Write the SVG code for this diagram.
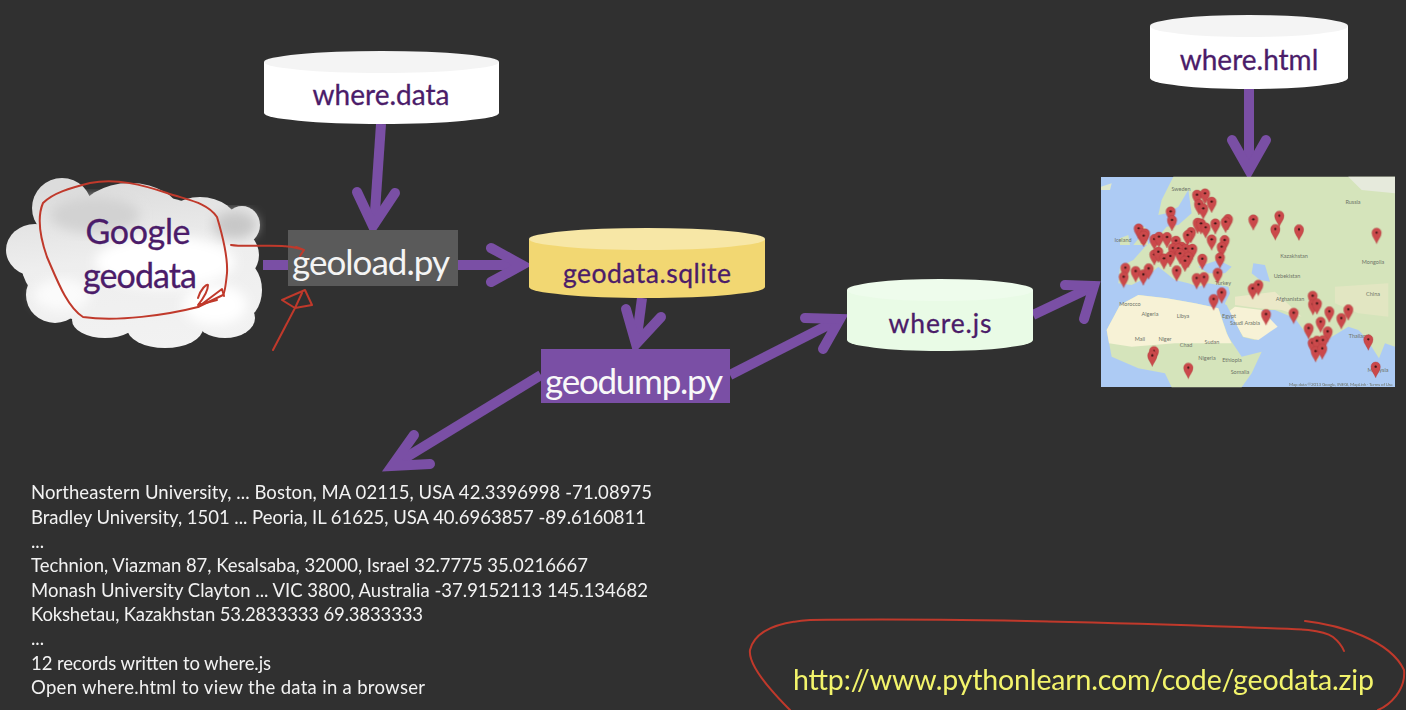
<svg xmlns="http://www.w3.org/2000/svg" xmlns:xlink="http://www.w3.org/1999/xlink" width="1406" height="710" viewBox="0 0 1406 710">
<style>
text{font-family:Lato,"Open Sans","Liberation Sans",sans-serif}
.lbl{font-size:28px;fill:#4b1c69;text-anchor:middle;stroke:#4b1c69;stroke-width:.3px}
.out{font-size:18.5px;fill:#f2f2f2}
.arr{fill:none;stroke:#7a4fa5;stroke-width:10;stroke-linecap:butt;stroke-linejoin:miter}
.hd{fill:none;stroke:#7a4fa5;stroke-width:10;stroke-linecap:round;stroke-linejoin:miter}
.red{fill:none;stroke:#c0392b;stroke-width:2;stroke-linecap:round;stroke-linejoin:round}
.m{font-size:5.500px;fill:#6f7468;text-anchor:middle}
</style>
<defs>
<linearGradient id="cl" gradientUnits="userSpaceOnUse" x1="130" y1="180" x2="150" y2="350"><stop offset="0" stop-color="#dcdcdc"/><stop offset=".45" stop-color="#eeeeee"/><stop offset="1" stop-color="#f2f2f2"/></linearGradient>
<filter id="soft" x="-5%" y="-5%" width="110%" height="110%"><feGaussianBlur stdDeviation=".9"/></filter>
<filter id="soft2" x="-20%" y="-20%" width="140%" height="140%"><feGaussianBlur stdDeviation="6"/></filter>
<g id="pin"><path d="M0,33C-3,22-14,14-14,0A14,14 0 1 1 14,0C14,14 3,22 0,33Z" fill="#cb4a4c" stroke="#a83638" stroke-width="1"/><circle r="3.500" fill="#3a1414"/></g>
</defs>
<rect id="background" width="1406" height="710" fill="#303030"/>

<g id="connectors">
<path class="arr" d="M381,124L374,226"/><path class="hd" d="M357,192L373,226L395,193"/>
<path class="arr" d="M263,265H290"/>
<path class="arr" d="M458,265H522"/><path class="hd" d="M491,248L522,265L491,282"/>
<path class="arr" d="M642,298L636,344"/><path class="hd" d="M626,309L636,344L661,317"/>
<path class="arr" d="M541,375L392,466"/><path class="hd" d="M414,435L392,466L430,464"/>
<path class="arr" d="M730,375L840,319"/><path class="hd" d="M805,318L840,319L823,349"/>
<path class="arr" d="M1033,315L1094,286"/><path class="hd" d="M1065,285L1094,286L1084,319"/>
<path class="arr" d="M1249,89V170"/><path class="hd" d="M1232,140L1249,170L1266,140"/>
</g>

<g id="where-data">
<path d="M264,62V113A117.500,11 0 0 0 499,113V62Z" fill="#fff"/>
<ellipse cx="381.500" cy="62" rx="117.500" ry="11" fill="#f4f4f4"/>
<text class="lbl" x="381" y="105">where.data</text>
</g>
<g id="where-html">
<path d="M1150,26V78A99,11 0 0 0 1348,78V26Z" fill="#fff"/>
<ellipse cx="1249" cy="26" rx="99" ry="11" fill="#f4f4f4"/>
<text class="lbl" x="1249" y="70">where.html</text>
</g>
<g id="geodata-sqlite">
<path d="M529,239V287A118,11 0 0 0 765,287V239Z" fill="#f2d772"/>
<ellipse cx="647" cy="239" rx="118" ry="11" fill="#f7e7a6"/>
<text class="lbl" x="647" y="283" style="font-size:26.500px" textLength="168">geodata.sqlite</text>
</g>
<g id="where-js">
<path d="M847,290V340A93,11 0 0 0 1033,340V290Z" fill="#e9fbe6"/>
<ellipse cx="940" cy="290" rx="93" ry="11" fill="#eefcec"/>
<text class="lbl" x="940" y="333" style="font-size:26.500px" textLength="103">where.js</text>
</g>

<g id="google-geodata">
<g fill="url(#cl)">
<ellipse cx="62" cy="208" rx="30" ry="30"/><ellipse cx="130" cy="215" rx="50" ry="32"/><ellipse cx="200" cy="225" rx="38" ry="28"/><ellipse cx="242" cy="225" rx="18" ry="19"/>
<ellipse cx="35" cy="250" rx="29" ry="26"/><ellipse cx="55" cy="295" rx="29" ry="28"/><ellipse cx="105" cy="320" rx="33" ry="18"/><ellipse cx="165" cy="328" rx="38" ry="20"/><ellipse cx="225" cy="318" rx="30" ry="20"/><ellipse cx="240" cy="290" rx="22" ry="30"/><ellipse cx="235" cy="255" rx="24" ry="25"/>
<ellipse cx="133" cy="262" rx="112" ry="68"/>
</g>
<ellipse cx="165" cy="262" rx="70" ry="26" fill="#fff" filter="url(#soft2)"/>
<ellipse cx="215" cy="305" rx="32" ry="20" fill="#fff" filter="url(#soft2)"/>
<ellipse cx="62" cy="295" rx="28" ry="16" fill="#fbfbfb" filter="url(#soft2)"/>
<ellipse cx="95" cy="215" rx="45" ry="18" fill="#d2d2d2" filter="url(#soft2)"/>
<ellipse cx="235" cy="225" rx="22" ry="14" fill="#c8c8c8" filter="url(#soft2)"/>
<text class="lbl" x="138" y="244" style="font-size:34px" textLength="105">Google</text>
<text class="lbl" x="140" y="288" style="font-size:34px" textLength="114">geodata</text>
</g>

<g id="geoload-py">
<rect x="288" y="230" width="170" height="56" fill="#5a5a5a"/>
<text x="371" y="275" font-size="35" fill="#f4f4f4" text-anchor="middle" textLength="158">geoload.py</text>
</g>
<g id="geodump-py">
<rect x="541" y="349" width="189" height="54" fill="#7a4fa5"/>
<text x="634" y="394" font-size="35" fill="#f8f8f8" text-anchor="middle" textLength="178">geodump.py</text>
</g>

<g id="map">
<rect x="1101" y="177" width="294" height="210" fill="#adcbf4"/>
<g transform="translate(1095 170) scale(.3333)" filter="url(#soft)">
<path d="M235,20H900V530L870,520L852,565L830,530L800,490L790,480L760,470L695,510L665,575L640,500L600,445L540,420L490,420L510,440L545,470L480,510L440,500L395,420L390,400L405,370L400,350L340,340L310,350L280,340L240,330L190,290L150,325L110,345L70,340L75,290L115,270L150,230L190,200L215,170L250,165L290,130L280,60L250,110L215,130L190,135L200,90Z" fill="#d5e4bb"/>
<path d="M440,20H760L800,60L900,70V20Z" fill="#e6eadc"/>
<path d="M120,175L150,170L160,225L115,225L135,200Z" fill="#d5e4bb"/>
<path d="M75,205L100,195L105,225L75,225Z" fill="#d5e4bb"/>
<path d="M18,50L50,40L45,60L18,60Z" fill="#dfe8cc"/>
<path d="M310,290L370,270L410,290L390,310L340,310Z" fill="#adcbf4"/>
<path d="M475,280L510,285L525,335L495,330L470,310Z" fill="#adcbf4"/>
<path d="M75,405L130,375L215,385L300,400L370,415L400,500L440,560L500,545L470,610L440,652H230L210,610L130,595L50,560L35,480Z" fill="#d5e4bb"/>
<path d="M75,405L130,375L215,385L300,400L370,415L395,490L410,520H240L110,530L42,520L35,480Z" fill="#f7f2d6"/>
<path d="M400,425L445,500L490,510L548,470L500,420L420,410Z" fill="#f7f2d6"/>
<path d="M380,400L430,500L445,505L395,405Z" fill="#adcbf4"/>
<path d="M420,380L540,365L620,440L560,420L490,415L420,405Z" fill="#ebe8c8"/>
<path d="M720,350L880,340V440L790,430L720,400Z" fill="#e2e6c2"/>
</g>
<g>
<text class="m" x="1181" y="191">Sweden</text>
<text class="m" x="1353" y="204">Russia</text>
<text class="m" x="1123" y="242">Iceland</text>
<text class="m" x="1294" y="258">Kazakhstan</text>
<text class="m" x="1373" y="264">Mongolia</text>
<text class="m" x="1287" y="278">Uzbekistan</text>
<text class="m" x="1223" y="285">Turkey</text>
<text class="m" x="1373" y="296">China</text>
<text class="m" x="1229" y="318">Egypt</text>
<text class="m" x="1183" y="318">Libya</text>
<text class="m" x="1150" y="316">Algeria</text>
<text class="m" x="1290" y="301">Afghanistan</text>
<text class="m" x="1130" y="306">Morocco</text>
<text class="m" x="1245" y="325">Saudi Arabia</text>
<text class="m" x="1140" y="341">Mali</text>
<text class="m" x="1165" y="341">Niger</text>
<text class="m" x="1212" y="344">Sudan</text>
<text class="m" x="1186" y="347">Chad</text>
<text class="m" x="1232" y="362">Ethiopia</text>
<text class="m" x="1207" y="360">Nigeria</text>
<text class="m" x="1240" y="374">Somalia</text>
<text class="m" x="1359" y="338">Thailand</text>
<text class="m" x="1378" y="372">Malaysia</text>
</g>
<g transform="translate(1095 170) scale(.3333)" filter="url(#soft)">
<use xlink:href="#pin" x="306" y="74"/><use xlink:href="#pin" x="330" y="70"/><use xlink:href="#pin" x="312" y="102"/><use xlink:href="#pin" x="350" y="95"/><use xlink:href="#pin" x="325" y="115"/><use xlink:href="#pin" x="227" y="124"/><use xlink:href="#pin" x="231" y="150"/><use xlink:href="#pin" x="399" y="147"/><use xlink:href="#pin" x="392" y="155"/><use xlink:href="#pin" x="361" y="160"/><use xlink:href="#pin" x="308" y="158"/><use xlink:href="#pin" x="318" y="160"/><use xlink:href="#pin" x="332" y="172"/><use xlink:href="#pin" x="475" y="148"/><use xlink:href="#pin" x="553" y="137"/><use xlink:href="#pin" x="541" y="177"/><use xlink:href="#pin" x="612" y="178"/><use xlink:href="#pin" x="845" y="188"/><use xlink:href="#pin" x="131" y="175"/><use xlink:href="#pin" x="140" y="190"/><use xlink:href="#pin" x="150" y="190"/><use xlink:href="#pin" x="146" y="197"/><use xlink:href="#pin" x="178" y="207"/><use xlink:href="#pin" x="192" y="200"/><use xlink:href="#pin" x="216" y="201"/><use xlink:href="#pin" x="288" y="186"/><use xlink:href="#pin" x="278" y="195"/><use xlink:href="#pin" x="243" y="212"/><use xlink:href="#pin" x="350" y="208"/><use xlink:href="#pin" x="389" y="210"/><use xlink:href="#pin" x="380" y="230"/><use xlink:href="#pin" x="234" y="234"/><use xlink:href="#pin" x="260" y="230"/><use xlink:href="#pin" x="272" y="236"/><use xlink:href="#pin" x="292" y="236"/><use xlink:href="#pin" x="250" y="235"/><use xlink:href="#pin" x="178" y="253"/><use xlink:href="#pin" x="190" y="245"/><use xlink:href="#pin" x="207" y="265"/><use xlink:href="#pin" x="226" y="258"/><use xlink:href="#pin" x="255" y="250"/><use xlink:href="#pin" x="280" y="260"/><use xlink:href="#pin" x="270" y="272"/><use xlink:href="#pin" x="322" y="266"/><use xlink:href="#pin" x="375" y="262"/><use xlink:href="#pin" x="91" y="293"/><use xlink:href="#pin" x="122" y="303"/><use xlink:href="#pin" x="145" y="313"/><use xlink:href="#pin" x="161" y="295"/><use xlink:href="#pin" x="86" y="320"/><use xlink:href="#pin" x="245" y="301"/><use xlink:href="#pin" x="305" y="324"/><use xlink:href="#pin" x="327" y="321"/><use xlink:href="#pin" x="368" y="308"/><use xlink:href="#pin" x="380" y="367"/><use xlink:href="#pin" x="356" y="387"/><use xlink:href="#pin" x="473" y="355"/><use xlink:href="#pin" x="490" y="344"/><use xlink:href="#pin" x="513" y="432"/><use xlink:href="#pin" x="596" y="428"/><use xlink:href="#pin" x="653" y="377"/><use xlink:href="#pin" x="654" y="402"/><use xlink:href="#pin" x="666" y="400"/><use xlink:href="#pin" x="703" y="424"/><use xlink:href="#pin" x="760" y="418"/><use xlink:href="#pin" x="739" y="444"/><use xlink:href="#pin" x="677" y="455"/><use xlink:href="#pin" x="641" y="474"/><use xlink:href="#pin" x="698" y="484"/><use xlink:href="#pin" x="653" y="518"/><use xlink:href="#pin" x="666" y="512"/><use xlink:href="#pin" x="684" y="510"/><use xlink:href="#pin" x="662" y="543"/><use xlink:href="#pin" x="682" y="535"/><use xlink:href="#pin" x="820" y="508"/><use xlink:href="#pin" x="842" y="590"/><use xlink:href="#pin" x="177" y="543"/><use xlink:href="#pin" x="172" y="556"/><use xlink:href="#pin" x="280" y="593"/>
</g>
<text x="1393" y="386" style="font-size:4.500px;fill:#6f7468;text-anchor:end" textLength="104">Map data ©2013 Google, INEGI, MapLink · Terms of Use</text>
</g>

<g id="output">
<text class="out" x="31" y="499" textLength="621">Northeastern University, ... Boston, MA 02115, USA 42.3396998 -71.08975</text>
<text class="out" x="31" y="524" textLength="615">Bradley University, 1501 ... Peoria, IL 61625, USA 40.6963857 -89.6160811</text>
<text class="out" x="31" y="548">...</text>
<text class="out" x="31" y="572" textLength="557">Technion, Viazman 87, Kesalsaba, 32000, Israel 32.7775 35.0216667</text>
<text class="out" x="31" y="597" textLength="617">Monash University Clayton ... VIC 3800, Australia -37.9152113 145.134682</text>
<text class="out" x="31" y="621" textLength="392">Kokshetau, Kazakhstan 53.2833333 69.3833333</text>
<text class="out" x="31" y="645">...</text>
<text class="out" x="31" y="670" textLength="240">12 records written to where.js</text>
<text class="out" x="31" y="694" textLength="394">Open where.html to view the data in a browser</text>
</g>

<text id="url" x="793" y="690" font-size="28.500" fill="#f3f46b" textLength="581">http://www.pythonlearn.com/code/geodata.zip</text>

<g id="annotations">
<path class="red" d="M90,183C117,178 143,185 167,193C187,200 207,202 217,217C223,237 228,257 227,273C226,283 225,293 223,295L198,307C167,315 117,322 83,317C67,307 57,280 47,257C40,237 37,217 43,203C53,193 70,188 90,183Z"/>
<path class="red" d="M231,245C250,248 283,242 304,250M296,247L304,250L300,256"/>
<path class="red" d="M198,307L222,289L224,296M198,305L217,300M198,298C200,290 207,283 208,285C208,292 202,300 198,305"/>
<path class="red" d="M273,350L295,308M295,308L282,300L305,290L312,305L295,308L302,293"/>
<path class="red" d="M790,710C770,690 748,665 750,650C755,630 780,622 810,620C950,618 1100,622 1240,627C1290,629 1320,628 1333,637C1338,641 1342,646 1344,651"/>
<path class="red" d="M1305,621C1340,625 1390,640 1404,670C1406,690 1390,705 1378,710"/>
</g>
</svg>
